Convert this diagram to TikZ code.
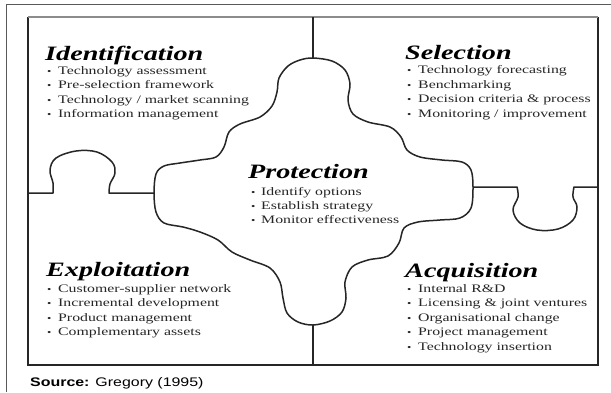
\documentclass[tikz,border=0pt]{standalone}
\usepackage{fontspec}
\setmainfont{Liberation Serif}[FakeStretch=1.38]
\newfontfamily\srcfont{Liberation Sans}[FakeStretch=1.28]
\begin{document}
\begin{tikzpicture}[x=1bp,y=-1bp,
  frame/.style={line width=1.9bp, black!85},
  piece/.style={line width=1.5bp, black!85, line join=round},
  heading/.style={anchor=base west, inner sep=0, text=black,
    font=\fontsize{20.5}{24}\selectfont\bfseries\itshape},
  item/.style={anchor=base west, inner sep=0, text=black!85,
    font=\fontsize{11.5}{14}\selectfont},
  bul/.style={anchor=base west, inner sep=0, text=black!85,
    font=\fontsize{9}{11}\selectfont},
]
\useasboundingbox (0,0) rectangle (611,392);
\fill[white] (0,0) rectangle (611,392);

% page rule
\draw[black!65, line width=1bp] (6,392) -- (6,4) -- (611,4);

% frame corners and joints
\coordinate (tl) at (28,17);
\coordinate (tr) at (598,17);
\coordinate (br) at (598,365);
\coordinate (bl) at (28,365);
\coordinate (topjoin) at (313,17);
\coordinate (topend) at (313,58);
\coordinate (botjoin) at (313,365);
\coordinate (botend) at (313,325);
\coordinate (leftjoin) at (28,193);
\coordinate (leftend) at (154,193);
\coordinate (rightjoin) at (598,187);
\coordinate (rightend) at (473,187);

% outer frame
\draw[frame] (tl) -- (bl) -- (br) -- (tr);
\draw[black!45, line width=1.2bp] (tl) -- (tr);

% dividers between the four corner pieces
\draw[piece] (topjoin) -- (topend);
\draw[piece] (botend) -- (botjoin);
\draw[piece] (leftjoin) -- (53,193)
  -- plot[smooth, tension=0.6] coordinates {(53,193) (53,183) (50,170) (56,158) (76,151) (97,152) (112,162) (115,173) (110,184) (109,193)}
  -- (leftend);
\draw[piece] (rightend) -- (517,187)
  -- plot[smooth, tension=0.6] coordinates {(517,187) (518,197) (513,210) (520,223) (537,230) (558,229) (573,220) (577,207) (573,197) (574,187)}
  -- (rightjoin);

% central piece
\draw[piece] plot[smooth cycle, tension=0.55] coordinates {
  (313,58) (332,61) (345,70) (350,84) (348,100) (353,114) (368,122) (390,127)
  (401,137) (407,150) (420,157) (442,160) (462,162) (471,170) (473,187) (471,208)
  (460,218) (440,220) (418,222) (404,228) (399,243) (388,256) (368,260) (352,267)
  (345,282) (346,298) (342,312) (330,321) (313,325) (298,322) (287,313) (283,298)
  (280,282) (270,268) (250,260) (232,252) (218,240) (200,232) (183,227) (164,223)
  (156,212) (154,193) (156,174) (164,166) (180,163) (200,160) (216,157) (224,147)
  (229,132) (240,124) (260,117) (272,106) (277,92) (279,78) (288,66) (300,60)};

% Identification
\node[heading] (idh) at (45,60) {Identification};
\foreach \t [count=\i] in {Technology assessment, Pre-selection framework,
    Technology / market scanning, Information management} {
  \node[bul] (idb\i) at (47,{74.5+14.3*(\i-1)}) {\textbullet};
  \node[item] (id\i) at (58,{74.5+14.3*(\i-1)}) {\t};
}

% Selection
\node[heading] (seh) at (405,59) {Selection};
\foreach \t [count=\i] in {Technology forecasting, Benchmarking,
    Decision criteria \& process, Monitoring / improvement} {
  \node[bul] (seb\i) at (407,{73.5+14.5*(\i-1)}) {\textbullet};
  \node[item] (se\i) at (418,{73.5+14.5*(\i-1)}) {\t};
}

% Protection
\node[heading] (prh) at (248,178) {Protection};
\foreach \t [count=\i] in {Identify options, Establish strategy,
    Monitor effectiveness} {
  \node[bul] (prb\i) at (251,{195+14*(\i-1)}) {\textbullet};
  \node[item] (pr\i) at (261,{195+14*(\i-1)}) {\t};
}

% Exploitation
\node[heading] (exh) at (46,276) {Exploitation};
\foreach \t [count=\i] in {Customer-supplier network, Incremental development,
    Product management, Complementary assets} {
  \node[bul] (exb\i) at (47,{292+14.6*(\i-1)}) {\textbullet};
  \node[item] (ex\i) at (58,{292+14.6*(\i-1)}) {\t};
}

% Acquisition
\node[heading] (ach) at (405,277) {Acquisition};
\foreach \t [count=\i] in {Internal R\&D, Licensing \& joint ventures,
    Organisational change, Project management, Technology insertion} {
  \node[bul] (acb\i) at (407,{292+14.5*(\i-1)}) {\textbullet};
  \node[item] (ac\i) at (418,{292+14.5*(\i-1)}) {\t};
}

% source line
\node[anchor=base west, inner sep=0, font=\srcfont\fontsize{12.5}{15}\selectfont]
  (src) at (30,386) {\textbf{Source:} Gregory (1995)};
\end{tikzpicture}
\end{document}
